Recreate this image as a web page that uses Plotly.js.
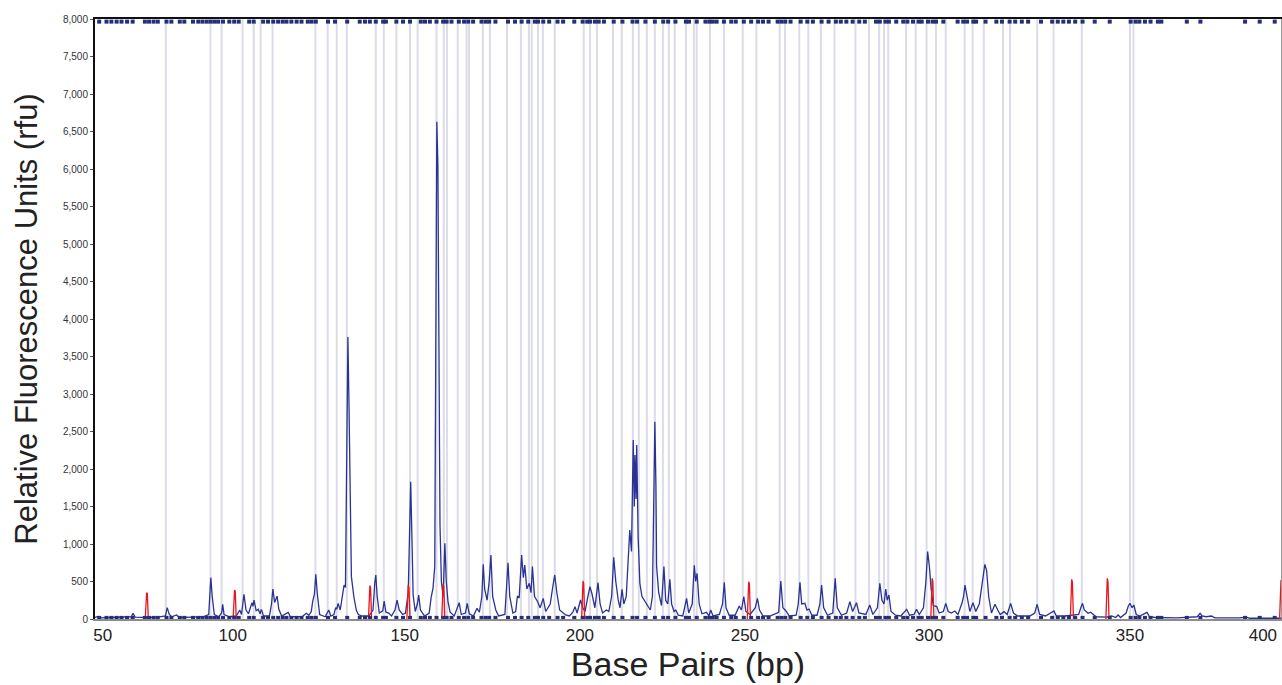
<!DOCTYPE html>
<html>
<head>
<meta charset="utf-8">
<script src="https://cdn.plot.ly/plotly-3.0.1.min.js"></script>
<style>html,body{margin:0;padding:0;background:#fff;}#chart{width:1282px;height:685px;}</style>
</head>
<body>
<div id="chart"></div>
<script>
// ---- Blue sample trace (base pairs, rfu) ----
const traceBp = [
 60.0, 60.8, 61.5, 65.0, 68.0, 70.4, 70.9, 71.5, 75.0, 78.0,
 80.2, 80.7, 81.3, 82.0, 83.4, 84.2, 88.0, 91.0, 92.6, 93.0,
 93.2, 93.6, 94.2, 95.5, 96.3, 96.6, 97.0, 98.5, 100.5, 101.5,
 102.0, 102.7, 103.3, 104.0, 104.6, 105.0, 105.3, 105.6, 106.2, 106.8,
 107.3, 107.7, 108.3, 110.0, 110.6, 111.0, 111.5, 112.2, 112.7, 113.5,
 115.4, 116.0, 119.5, 120.6, 121.3, 122.0, 122.4, 122.9, 123.3, 123.7,
 124.4, 126.0, 127.0, 127.6, 128.5, 129.0, 129.3, 129.7, 130.3, 131.0,
 131.4, 131.8, 132.2, 132.5, 132.8, 133.2, 133.5, 134.2, 134.9, 135.5,
 136.5, 138.5, 139.7, 140.2, 140.5, 140.9, 141.5, 142.5, 142.9, 143.4,
 144.2, 145.0, 146.0, 146.6, 147.2, 148.2, 149.0, 149.8, 150.2, 150.5,
 150.8, 151.2, 151.8, 152.4, 152.8, 153.3, 154.5, 155.8, 156.4, 156.9,
 157.4, 157.7, 158.0, 158.3, 158.6, 158.9, 159.3, 159.8, 160.3, 160.7,
 161.2, 161.8, 163.0, 164.4, 165.0, 166.2, 166.7, 167.3, 168.5, 169.5,
 170.2, 170.9, 171.3, 171.7, 172.4, 173.0, 173.5, 174.0, 174.9, 175.7,
 177.5, 178.0, 178.4, 178.9, 179.8, 180.6, 181.1, 181.6, 182.3, 182.8,
 183.2, 183.8, 184.5, 185.0, 185.4, 186.0, 186.9, 187.6, 188.5, 189.2,
 190.5, 191.3, 191.8, 192.4, 193.2, 194.9, 196.0, 197.0, 197.6, 198.2,
 199.2, 199.8, 200.5, 201.3, 201.9, 202.5, 203.3, 204.2, 204.8, 205.5,
 206.6, 207.3, 208.1, 208.7, 209.3, 210.0, 210.5, 211.1, 211.6, 212.3,
 212.7, 213.3, 213.8, 214.3, 214.6, 214.8, 215.1, 215.3, 215.7, 216.2,
 216.8, 217.5, 218.3, 219.2, 219.8, 220.2, 220.5, 220.8, 221.0, 221.6,
 222.4, 223.1, 223.6, 224.2, 224.8, 225.3, 226.0, 226.5, 227.2, 228.5,
 229.6, 230.2, 231.2, 231.8, 232.2, 232.6, 233.2, 234.0, 235.3, 236.0,
 236.5, 237.2, 239.0, 239.9, 240.4, 240.9, 241.8, 243.5, 244.7, 245.3,
 246.0, 246.6, 247.8, 249.3, 249.9, 250.5, 251.5, 253.5, 254.5, 255.4,
 256.0, 256.6, 257.2, 258.1, 259.0, 261.0, 261.6, 262.1, 262.6, 263.5,
 264.1, 264.7, 265.5, 267.0, 267.8, 268.3, 268.9, 270.0, 271.5, 272.2,
 272.8, 274.0, 275.5, 276.4, 277.2, 278.3, 279.0, 281.0, 282.1, 283.0,
 284.3, 285.0, 285.6, 286.2, 286.7, 287.1, 287.6, 288.2, 289.5, 291.0,
 292.7, 293.5, 294.8, 295.5, 296.3, 297.5, 298.2, 298.7, 299.2, 299.7,
 300.3, 301.3, 302.0, 303.2, 303.9, 304.6, 305.5, 306.5, 307.4, 308.6,
 309.0, 309.4, 310.0, 310.8, 311.7, 312.5, 313.5, 314.3, 315.1, 315.6,
 316.2, 317.0, 318.0, 318.8, 319.5, 320.6, 321.5, 322.5, 323.3, 324.5,
 328.0, 329.4, 330.1, 330.8, 332.5, 334.9, 335.6, 338.0, 342.0, 342.6,
 343.1, 343.6, 344.7, 345.4, 346.2, 347.0, 350.0, 351.5, 352.6, 353.3,
 354.0, 355.6, 356.2, 356.7, 357.3, 357.8, 358.5, 359.5, 361.6, 362.3,
 364.0, 370.0, 376.0, 376.8, 377.4, 378.5, 380.1, 381.0, 388.0, 390.1,
 391.0, 400.0
];
const traceRfu = [
 20, 35, 15, 20, 25, 30, 76, 25, 20, 25,
 40, 151, 60, 30, 54, 20, 25, 30, 60, 420,
 551, 300, 60, 30, 80, 196, 60, 30, 40, 120,
 60, 330, 120, 70, 160, 218, 170, 253, 110, 129,
 70, 129, 40, 40, 200, 400, 220, 307, 130, 40,
 89, 30, 35, 76, 50, 100, 231, 330, 596, 350,
 60, 30, 120, 40, 60, 151, 130, 209, 120, 300,
 453, 420, 2000, 3760, 2900, 1200, 565, 300, 120, 60,
 40, 40, 120, 480, 587, 300, 80, 110, 240, 90,
 80, 40, 120, 253, 120, 60, 80, 350, 1000, 1831,
 1200, 320, 100, 200, 320, 120, 40, 80, 300, 409,
 700, 4400, 6630, 6050, 3000, 1254, 500, 300, 1009, 500,
 231, 90, 40, 218, 60, 80, 209, 70, 40, 142,
 90, 300, 729, 400, 250, 500, 853, 300, 120, 40,
 60, 400, 751, 300, 80, 100, 307, 280, 853, 550,
 720, 400, 476, 350, 698, 300, 231, 150, 275, 100,
 200, 450, 587, 350, 120, 54, 40, 90, 165, 80,
 253, 150, 100, 300, 431, 330, 150, 485, 200, 80,
 120, 100, 300, 822, 500, 250, 150, 396, 200, 300,
 631, 1187, 900, 2387, 1500, 2187, 1600, 2320, 1100, 476,
 300, 250, 180, 120, 300, 1500, 2631, 1800, 698, 350,
 180, 698, 250, 200, 529, 200, 100, 120, 50, 40,
 275, 80, 200, 716, 500, 609, 200, 70, 89, 40,
 120, 40, 60, 200, 489, 150, 50, 50, 174, 120,
 298, 100, 60, 150, 275, 120, 40, 40, 60, 76,
 90, 507, 150, 107, 40, 50, 200, 489, 200, 209,
 120, 133, 50, 50, 200, 453, 150, 50, 80, 542,
 150, 50, 80, 231, 100, 218, 80, 60, 187, 60,
 150, 476, 250, 200, 400, 250, 320, 100, 50, 40,
 129, 50, 60, 129, 60, 150, 500, 898, 700, 400,
 180, 165, 80, 100, 209, 100, 80, 107, 60, 220,
 300, 453, 300, 100, 218, 100, 200, 450, 729, 650,
 300, 80, 196, 120, 60, 98, 60, 209, 80, 40,
 40, 80, 196, 60, 40, 107, 40, 40, 60, 150,
 209, 120, 76, 90, 60, 30, 25, 40, 20, 54,
 20, 80, 170, 209, 150, 187, 60, 40, 89, 30,
 20, 15, 30, 76, 40, 30, 40, 15, 15, 25,
 10, 10
];

// ---- Red size-standard trace (base pairs, rfu); null separates peaks ----
const ladderBp = [
 74.4, 74.7, 74.8, 75.0, 75.3, null,
 99.6, 99.9, 100.0, 100.2, 100.5, null,
 138.4, 138.7, 138.8, 139.0, 139.3, null,
 149.4, 149.7, 149.8, 150.0, 150.3, null,
 159.4, 159.7, 159.8, 160.0, 160.3, null,
 199.5, 199.8, 199.9, 200.1, 200.4, null,
 247.0, 247.3, 247.4, 247.6, 247.9, null,
 299.6, 299.9, 300.0, 300.2, 300.5, null,
 339.6, 339.9, 340.0, 340.2, 340.5, null,
 349.8, 350.1, 350.2, 350.4, 350.7, null,
 399.6, 399.9, 400.0
];
const ladderRfu = [
 0, 300, 351, 340, 0, null,
 0, 330, 387, 370, 0, null,
 0, 400, 445, 420, 0, null,
 0, 400, 453, 420, 0, null,
 0, 420, 467, 440, 0, null,
 0, 460, 507, 470, 0, null,
 0, 450, 498, 470, 0, null,
 0, 490, 542, 500, 0, null,
 0, 480, 529, 490, 0, null,
 0, 500, 542, 500, 0, null,
 0, 480, 520
];

// ---- Bin guide lines (base pairs) ----
const binBp = [
 80.3, 93.1, 96.3, 102.3, 105.5, 107.5, 110.9, 123.2, 126.7, 129.3,
 132.2, 140.5, 142.8, 146.4, 150.3, 152.5, 157.9, 160.0, 160.9, 164.0,
 166.5, 167.2, 171.2, 173.2, 178.1, 182.1, 184.4, 185.2, 187.0, 188.4,
 191.8, 200.1, 201.9, 203.9, 208.5, 211.0, 214.2, 215.9, 218.2, 220.5,
 222.8, 224.5, 226.2, 229.4, 231.7, 232.5, 236.3, 240.3, 245.7, 249.6,
 256.3, 257.8, 261.9, 264.5, 268.1, 272.0, 278.0, 281.9, 284.8, 286.2,
 287.4, 292.5, 295.3, 298.4, 301.1, 303.9, 309.3, 311.6, 314.8, 320.3,
 322.3, 330.1, 334.8, 342.9, 356.7, 357.7
];

// ---- Peak-call markers (base pairs) ----
const callBp = [
 61.2, 63.3, 64.7, 66.2, 67.6, 69.2, 70.8, 74.3, 75.5, 76.8,
 78.0, 80.5, 81.9, 84.3, 85.6, 88.1, 89.6, 90.8, 92.0, 93.1,
 94.2, 95.3, 96.7, 98.5, 99.9, 101.2, 104.2, 105.5, 108.2, 109.6,
 111.1, 112.5, 113.8, 114.9, 116.3, 117.8, 119.2, 121.0, 122.1, 123.3,
 126.8, 128.8, 132.3, 135.9, 137.4, 138.8, 140.5, 142.6, 143.4, 146.4,
 148.3, 150.3, 153.4, 154.6, 156.0, 157.9, 159.8, 160.8, 162.2, 164.3,
 165.8, 167.0, 168.4, 170.8, 172.0, 173.0, 174.8, 178.4, 180.4, 182.3,
 184.2, 186.1, 187.0, 188.5, 190.2, 192.6, 194.2, 197.4, 199.8, 201.1,
 201.9, 203.3, 204.4, 205.9, 208.7, 211.2, 214.1, 215.4, 217.8, 220.5,
 222.9, 224.3, 226.4, 229.4, 230.3, 232.5, 235.0, 236.1, 237.1, 238.2,
 240.3, 242.4, 243.7, 246.0, 248.1, 250.1, 251.5, 253.1, 255.7, 256.8,
 257.9, 259.4, 262.3, 264.2, 265.8, 268.3, 270.3, 272.4, 273.8, 275.4,
 277.2, 279.1, 280.7, 283.9, 285.0, 286.6, 287.6, 289.7, 291.7, 292.9,
 294.5, 296.1, 297.0, 298.8, 300.1, 301.1, 303.2, 307.3, 308.9, 310.0,
 311.8, 312.6, 315.3, 318.4, 320.0, 322.2, 323.8, 325.7, 327.5, 331.2,
 334.4, 336.0, 337.6, 339.2, 341.0, 343.1, 346.6, 350.9, 356.9, 358.3,
 359.4, 361.0, 362.6, 364.7, 365.7, 373.0, 376.9, 389.7, 393.9, 398.2
];
const topRowRfu = 7965;
const baseRowRfu = 15;

// ---- Axis labels ----
const xTickPos  = [62.2, 99.5, 148.8, 199.0, 246.3, 299.1, 356.7, 394.8];
const xTickText = ['50', '100', '150', '200', '250', '300', '350', '400'];
const yRange = [0, 8000];
const xRange = [60, 400];

// build bin guide polyline from binBp
const binX = [], binY = [];
binBp.forEach(b => { binX.push(b, b, null); binY.push(yRange[0], yRange[1], null); });

const FONT = '"Liberation Sans", Arial, Helvetica, sans-serif';

const traces = [
  {x: binX, y: binY, type: 'scatter', mode: 'lines',
   line: {color: '#dcdce8', width: 2}, hoverinfo: 'skip'},
  {x: traceBp, y: traceRfu, type: 'scatter', mode: 'lines',
   line: {color: '#2a3393', width: 1.3}, hoverinfo: 'skip'},
  {x: ladderBp, y: ladderRfu, type: 'scatter', mode: 'lines',
   line: {color: '#e8161e', width: 1.3}, connectgaps: false, hoverinfo: 'skip'},
  {x: callBp, y: callBp.map(() => topRowRfu), xaxis: 'x2', type: 'scatter', mode: 'markers',
   marker: {symbol: 'square', size: 4, color: '#262e7c'}, cliponaxis: false, hoverinfo: 'skip'},
  {x: callBp, y: callBp.map(() => baseRowRfu), yaxis: 'y2', type: 'scatter', mode: 'markers',
   marker: {symbol: 'square', size: 4, color: '#262e7c'}, cliponaxis: false, hoverinfo: 'skip'}
];

const layout = {
  width: 1282, height: 685,
  margin: {l: 95, r: 1, t: 19, b: 66, pad: 0},
  paper_bgcolor: '#ffffff', plot_bgcolor: '#ffffff',
  showlegend: false,
  font: {family: FONT, color: '#222'},
  xaxis: {
    range: xRange, tickmode: 'array', tickvals: xTickPos, ticktext: xTickText,
    ticks: '', showgrid: false, zeroline: false,
    showline: true, linecolor: '#8c8c8c', linewidth: 2,
    tickfont: {family: FONT, size: 17, color: '#222'},
    title: {text: 'Base Pairs (bp)', font: {family: FONT, size: 34, color: '#222'}, standoff: 8}
  },
  xaxis2: {
    overlaying: 'x', side: 'top', range: xRange, showline: true, linecolor: '#111',
    linewidth: 2, showticklabels: false, ticks: '', showgrid: false, zeroline: false
  },
  yaxis: {
    range: yRange, tick0: 0, dtick: 500, tickformat: ',d',
    ticks: 'outside', ticklen: 3, tickwidth: 1, tickcolor: '#555',
    showline: true, linecolor: '#111', linewidth: 2,
    showgrid: false, zeroline: false,
    tickfont: {family: FONT, size: 10, color: '#333'},
    title: {text: 'Relative Fluorescence Units (rfu)', font: {family: FONT, size: 31, color: '#222'}, standoff: 16}
  },
  yaxis2: {
    overlaying: 'y', side: 'right', range: yRange, showline: true, linecolor: '#9a9a9a',
    linewidth: 1, showticklabels: false, ticks: '', showgrid: false, zeroline: false
  }
};

Plotly.newPlot('chart', traces, layout, {staticPlot: true, displayModeBar: false});
</script>
</body>
</html>
